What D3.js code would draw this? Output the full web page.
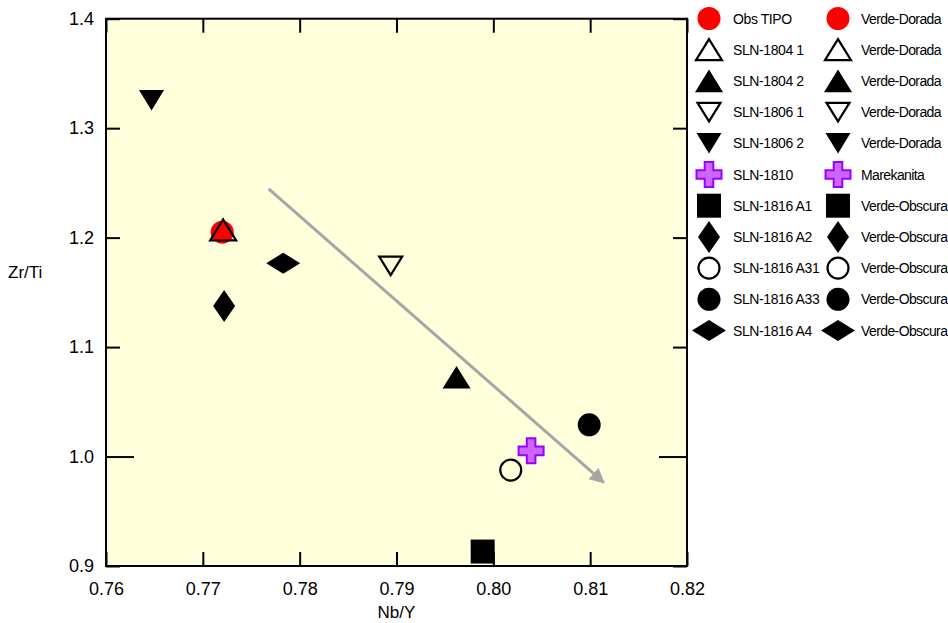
<!DOCTYPE html>
<html><head><meta charset="utf-8">
<script src="https://cdn.jsdelivr.net/npm/d3@7"></script>
<style>
html,body{margin:0;padding:0;background:#fff;}
text{font-family:"Liberation Sans",Arial,sans-serif;}
</style></head>
<body>
<svg id="chart" width="948" height="623"></svg>
<script>
// ---- data ----
const sampleNames = ["Obs TIPO","SLN-1804 1","SLN-1804 2","SLN-1806 1","SLN-1806 2","SLN-1810",
  "SLN-1816 A1","SLN-1816 A2","SLN-1816 A31","SLN-1816 A33","SLN-1816 A4"];
const groupNames = ["Verde-Dorada","Verde-Dorada","Verde-Dorada","Verde-Dorada","Verde-Dorada","Marekanita",
  "Verde-Obscura","Verde-Obscura","Verde-Obscura","Verde-Obscura","Verde-Obscura"];
const nbY  = [0.7720,0.7721,0.7962,0.7894,0.7647,0.8039,0.7989,0.7722,0.8018,0.8099,0.7783];
const zrTi = [1.205, 1.207, 1.0725,1.1742,1.3255,1.0052,0.9132,1.1376,0.9876,1.029, 1.1766];
const symbolKeys = ["circleRed","triUpOpen","triUpFill","triDownOpen","triDownFill","cross",
  "square","diamondV","circleOpen","circleFill","diamondH"];
const xTicks = [0.76,0.77,0.78,0.79,0.80,0.81,0.82];
const yTicks = [0.9,1.0,1.1,1.2,1.3,1.4];
const arrowX = [0.7768,0.8114];
const arrowY = [1.2445,0.9763];
const xTitle = "Nb/Y", yTitle = "Zr/Ti";

// ---- layout ----
const svg = d3.select("#chart");
const L=106, R=687, T=18.7, B=566;
const x = d3.scaleLinear().domain([0.76,0.82]).range([L,R]);
const y = d3.scaleLinear().domain([0.9,1.4]).range([B,T]);

svg.append("rect").attr("x",L).attr("y",T).attr("width",R-L).attr("height",B-T)
  .attr("fill","#ffffdc");

// symbol path generators (local coords, centered)
function sym(key){
  switch(key){
    case "circleRed": case "circleOpen": case "circleFill": {
      const r = key==="circleOpen"?10.5:11.5;
      return `M${-r},0A${r},${r} 0 1,0 ${r},0A${r},${r} 0 1,0 ${-r},0Z`;
    }
    case "triUpOpen": return "M0,-10.5L13,10.5L-13,10.5Z";
    case "triUpFill": return "M0,-11.3L14,11.3L-14,11.3Z";
    case "triDownOpen": return "M-11.5,-9.3L11.5,-9.3L0,9.3Z";
    case "triDownFill": return "M-12.5,-10.3L12.5,-10.3L0,10.3Z";
    case "square": return "M-12,-12H12V12H-12Z";
    case "diamondV": return "M0,-16L11,0L0,16L-11,0Z";
    case "diamondH": return "M-17,0L0,-10.5L17,0L0,10.5Z";
    case "cross": { const a=12.5,b=4.3;
      return `M${-b},${-a}H${b}V${-b}H${a}V${b}H${b}V${a}H${-b}V${b}H${-a}V${-b}H${-b}Z`; }
  }
}
function styleSym(sel,key){
  if(key==="circleRed") sel.attr("fill","#ff0000").attr("stroke","none");
  else if(key==="triUpOpen"||key==="triDownOpen"||key==="circleOpen")
    sel.attr("fill","none").attr("stroke","#000").attr("stroke-width",2.2);
  else if(key==="cross") sel.attr("fill","#cc66ff").attr("stroke","#9900ff").attr("stroke-width",2);
  else sel.attr("fill","#000").attr("stroke","none");
}

// arrow
const defs = svg.append("defs");
defs.append("marker").attr("id","ah").attr("viewBox","0 0 10 10").attr("refX",9).attr("refY",5)
  .attr("markerWidth",5.5).attr("markerHeight",5).attr("markerUnits","strokeWidth").attr("orient","auto")
  .append("path").attr("d","M0,0L10,5L0,10Z").attr("fill","#a6a6a6");
svg.append("line").attr("x1",x(arrowX[0])).attr("y1",y(arrowY[0]))
  .attr("x2",x(arrowX[1])).attr("y2",y(arrowY[1]))
  .attr("stroke","#a6a6a6").attr("stroke-width",3).attr("marker-end","url(#ah)");

// points
const pts = sampleNames.map((n,i)=>({n,k:symbolKeys[i],x:nbY[i],y:zrTi[i]}));
pts.forEach(p=>{
  const s = svg.append("path").attr("d",sym(p.k))
    .attr("transform",`translate(${x(p.x)},${y(p.y)})`);
  styleSym(s,p.k);
});

// axes
const fs = "18px";
const gB = svg.append("g").attr("transform",`translate(0,${B})`)
  .call(d3.axisBottom(x).tickValues(xTicks).tickFormat(d3.format(".2f")).tickSizeInner(-14).tickSizeOuter(0).tickPadding(16));
const gT = svg.append("g").attr("transform",`translate(0,${T})`)
  .call(d3.axisTop(x).tickValues(xTicks).tickFormat("").tickSizeInner(-14).tickSizeOuter(0));
const gL = svg.append("g").attr("transform",`translate(${L},0)`)
  .call(d3.axisLeft(y).tickValues(yTicks).tickFormat(d3.format(".1f")).tickSizeInner(-14).tickSizeOuter(0).tickPadding(12));
const gR = svg.append("g").attr("transform",`translate(${R},0)`)
  .call(d3.axisRight(y).tickValues(yTicks).tickFormat("").tickSizeInner(-14).tickSizeOuter(0));
[gB,gT,gL,gR].forEach(g=>{
  g.select(".domain").remove();
  g.selectAll("line").attr("stroke","#000").attr("stroke-width",2);
  g.selectAll("text").attr("font-size",fs).attr("fill","#000").attr("font-family","'Liberation Sans',Arial,sans-serif");
});
gL.selectAll(".tick line").attr("x2",d=>Math.abs(d-1.0)<1e-9?28:14);
gR.selectAll(".tick line").attr("x2",d=>Math.abs(d-1.0)<1e-9?-28:-14);

svg.append("rect").attr("x",L).attr("y",T).attr("width",R-L).attr("height",B-T)
  .attr("fill","none").attr("stroke","#000").attr("stroke-width",2);

// titles
svg.append("text").attr("x",(L+R)/2).attr("y",618).attr("text-anchor","middle")
  .attr("font-size","17px").text(xTitle);
svg.append("text").attr("x",8).attr("y",278).attr("text-anchor","start")
  .attr("font-size","17px").text(yTitle);

// legend
const rowY = i => 18.5 + i*31.2;
const leg = svg.append("g");
sampleNames.forEach((n,i)=>{
  const s = leg.append("path").attr("d",sym(symbolKeys[i])).attr("transform",`translate(709,${rowY(i)})`);
  styleSym(s,symbolKeys[i]);
  leg.append("text").attr("x",733).attr("y",rowY(i)).attr("dy","0.36em")
    .attr("font-size","14px").attr("letter-spacing","-0.4").text(n);
});
groupNames.forEach((n,i)=>{
  const s = leg.append("path").attr("d",sym(symbolKeys[i])).attr("transform",`translate(838,${rowY(i)})`);
  styleSym(s,symbolKeys[i]);
  if(symbolKeys[i]==="circleOpen") s.attr("fill","#fff");
  leg.append("text").attr("x",861).attr("y",rowY(i)).attr("dy","0.36em")
    .attr("font-size","14px").attr("letter-spacing","-0.6").text(n);
});
</script>
</body></html>
